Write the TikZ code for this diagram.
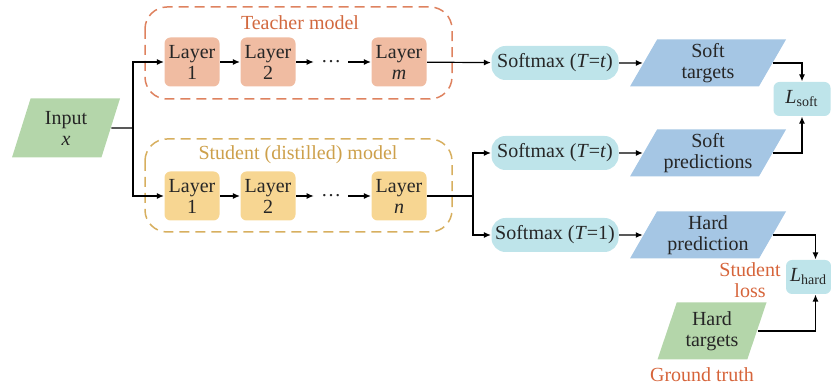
\documentclass[tikz,border=0pt]{standalone}
\usepackage{fontspec}
\setmainfont{Liberation Serif}
\usetikzlibrary{arrows.meta, positioning, shapes.geometric}

\definecolor{teacherfill}{HTML}{F0BCA2}
\definecolor{teacherline}{HTML}{DE825F}
\definecolor{teachertext}{HTML}{D2693F}
\definecolor{studentfill}{HTML}{F7D692}
\definecolor{studentline}{HTML}{D7AF5F}
\definecolor{studenttext}{HTML}{CDA04B}
\definecolor{cyanfill}{HTML}{BEE4EA}
\definecolor{bluefill}{HTML}{A5C6E4}
\definecolor{greenfill}{HTML}{B4D6AA}
\definecolor{losstext}{HTML}{D6643A}

\begin{document}
\begin{tikzpicture}[
    x=0.5pt, y=-0.5pt,
    >={Latex[length=3.5pt,width=3pt]},
    font=\fontsize{10}{10.5}\selectfont,
    line width=0.6pt,
    text=black!85,
    on grid,
    layer/.style={rounded corners=3pt, minimum width=27.5pt, minimum height=24.5pt,
        align=center, inner sep=1pt},
    tlayer/.style={layer, fill=teacherfill},
    slayer/.style={layer, fill=studentfill},
    softmax/.style={fill=cyanfill, rounded corners=7pt, minimum width=63.5pt,
        minimum height=17pt, inner sep=1pt},
    lossbox/.style={fill=cyanfill, rounded corners=3pt, minimum height=17pt, inner sep=1pt},
    para/.style={trapezium, trapezium left angle=58, trapezium right angle=122,
        trapezium stretches body, align=center, inner sep=1pt},
    outbox/.style={para, fill=bluefill, minimum width=78pt, minimum height=23.5pt},
    modelbox/.style={dashed, dash pattern=on 5pt off 3pt, line width=0.75pt, rounded corners=11pt},
]
    \useasboundingbox (0,0) rectangle (831,389);

    % teacher
    \draw[modelbox, teacherline] (145,7) rectangle (452,99);
    \node[text=teachertext] (ttitle) at (300,23) {Teacher model};
    \node[tlayer] (t1) at (192,62) {Layer\\1};
    \node[tlayer] (t2) at (268,62) {Layer\\2};
    \node         (td) at (331,62) {\dots};
    \node[tlayer] (tm) at (399,62) {Layer\\\textit{m}};

    % student
    \draw[modelbox, studentline] (145,139) rectangle (452,232);
    \node[text=studenttext] (stitle) at (298,155) {Student (distilled) model};
    \node[slayer, below=67pt of t1] (s1) {Layer\\1};
    \node[slayer, below=67pt of t2] (s2) {Layer\\2};
    \node[        below=67pt of td] (sd) {\dots};
    \node[slayer, below=67pt of tm] (sn) {Layer\\\textit{n}};

    \node[para, fill=greenfill, trapezium left angle=64, trapezium right angle=116,
        minimum width=54pt, minimum height=29.5pt] (in) at (66,128) {Input\\\textit{x}};
    \coordinate (split) at (133,128);
    \coordinate (join) at (473,196);

    \node[softmax] (sm1) at (555,63)  {Softmax (\textit{T}=\textit{t})};
    \node[softmax] (sm2) at (555,153) {Softmax (\textit{T}=\textit{t})};
    \node[softmax] (sm3) at (555,235) {Softmax (\textit{T}=1)};

    \node[outbox] (st) at (708,63)  {Soft\\targets};
    \node[outbox] (sp) at (708,153) {Soft\\predictions};
    \node[outbox] (hp) at (708,235) {Hard\\prediction};
    \node[para, fill=greenfill, trapezium left angle=66, trapezium right angle=114,
        minimum width=54.5pt, minimum height=28.5pt] (ht) at (712,331) {Hard\\targets};

    \node[lossbox, minimum width=28.5pt] (ls) at (802,99) {\textit{L}\textsubscript{soft}};
    \node[lossbox, minimum width=22.5pt] (lh) at (808.5,277) {\textit{L}\textsubscript{hard}};

    \node[text=losstext, align=center] (sloss) at (750,280) {Student\\loss};
    \node[text=losstext] (gt) at (702,375) {Ground truth};

    \draw (in.east) -- (split);
    \draw[->] (split) |- (t1);
    \draw[->] (split) |- (s1);
    \draw[->] (t1) -- (t2);
    \draw[->] (t2) -- (td);
    \draw[->] (td) -- (tm);
    \draw[->] (s1) -- (s2);
    \draw[->] (s2) -- (sd);
    \draw[->] (sd) -- (sn);
    \draw[->] (tm) -- (sm1);
    \draw (sn) -- (join);
    \draw[->] (join) |- (sm2);
    \draw[->] (join) |- (sm3);
    \draw[->] (sm1) -- (st);
    \draw[->] (sm2) -- (sp);
    \draw[->] (sm3) -- (hp);
    \draw[->] (st.east) -| (ls.north);
    \draw[->] (sp.east) -| (ls.south);
    \draw[->] (hp.east) -| ([xshift=3.5pt]lh.north);
    \draw[->] (ht.east) -| ([xshift=3.5pt]lh.south);
\end{tikzpicture}
\end{document}
